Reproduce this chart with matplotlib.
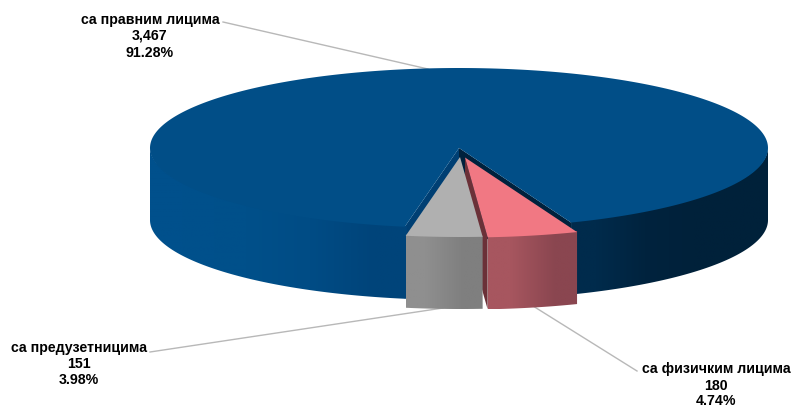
import numpy as np
import matplotlib
matplotlib.use("Agg")
import matplotlib.pyplot as plt
from matplotlib.colors import to_rgb
from matplotlib.patches import Polygon

# deposits by type of counterparty
labels = ["са правним лицима", "са физичким лицима", "са предузетницима"]
values = [3467, 180, 151]

# pie geometry, in pixels
CX, CY = 459, 148
RX, RY = 309, 80
DEPTH = 72
SPLIT = 4.2  # where the two small slices meet, degrees right of straight down
PINK_OFFSET = (6, 9.5)
GRAY_OFFSET = (1, 9)

plt.rcParams["font.family"] = ["Liberation Sans", "DejaVu Sans"]

total = sum(values)
pink_end = SPLIT + values[1] / total * 360
gray_end = SPLIT - values[2] / total * 360


def rim(phi, dx=0, dy=0):
    # phi is measured from straight down, positive to the right
    p = np.radians(phi)
    return CX + dx + RX * np.sin(p), CY + dy + RY * np.cos(p)


def wall(ax, phi0, phi1, colors, dx=0, dy=0, zorder=2):
    # side of the disc, a left-to-right gradient clipped to the outline
    x, y = rim(np.linspace(phi0, phi1, 200), dx, dy)
    # upper edge sits 1px above the rim so no seam shows under the top
    xs = np.r_[x, x[::-1]]
    ys = np.r_[y - 1, y[::-1] + DEPTH]
    grad = np.array([to_rgb(c) for c in colors])[None, :, :]
    im = ax.imshow(grad, extent=[xs.min(), xs.max(), ys.max(), ys.min()], aspect="auto",
                   interpolation="bilinear", zorder=zorder)
    im.set_clip_path(Polygon(np.c_[xs, ys], closed=True, transform=ax.transData))


def slice_top(ax, phi0, phi1, color, dx=0, dy=0, zorder=3):
    x, y = rim(np.linspace(phi0, phi1, 300), dx, dy)
    ax.fill(np.r_[CX + dx, x], np.r_[CY + dy, y], color=color, lw=0, zorder=zorder)


def cut_face(ax, phi, color, dx=0, dy=0, zorder=2):
    x, y = rim(phi, dx, dy)
    ax.fill([CX + dx, x, x, CX + dx], [CY + dy, y, y + DEPTH, CY + dy + DEPTH],
            color=color, lw=0, zorder=zorder)


fig = plt.figure(figsize=(7.92, 4.07), dpi=100)
ax = fig.add_axes([0, 0, 1, 1])
ax.axis("off")

# leader lines
leaders = [((223, 22), (428, 69)), ((533, 306), (637, 371)), ((150, 352), (443, 308))]
for a, b in leaders:
    ax.plot([a[0], b[0]], [a[1], b[1]], color="#b8b8b8", lw=1, zorder=1)

# large slice, left wall runs slightly past the cut so it butts against the gray slice
cut_face(ax, pink_end, "#00213d", zorder=2)
cut_face(ax, gray_end, "#003f73", zorder=2)
wall(ax, -90, gray_end + 0.4, ["#00508c", "#00508a", "#004c85", "#00447a"], zorder=3)
wall(ax, pink_end, 90, ["#002b4c", "#00233e", "#00213a", "#00213a"], zorder=3)
slice_top(ax, pink_end, 360 + gray_end, "#014e87", zorder=4)

# pink slice
cut_face(ax, SPLIT, "#6b3138", *PINK_OFFSET, zorder=5)
wall(ax, SPLIT, pink_end, ["#a7565f", "#8a4650"], *PINK_OFFSET, zorder=6)
slice_top(ax, SPLIT, pink_end, "#f17883", *PINK_OFFSET, zorder=7)

# gray slice
wall(ax, gray_end, SPLIT, ["#8f8f8f", "#7f7f7f"], *GRAY_OFFSET, zorder=8)
slice_top(ax, gray_end, SPLIT, "#b0b0b0", *GRAY_OFFSET, zorder=9)

# labels, one text per line
label_x = [150, 716, 79]
label_y = [(20, 36, 53), (369, 386, 401), (348, 364, 380)]
for name, v, x, ys in zip(labels, values, label_x, label_y):
    lines = [name, f"{v:,}", f"{v / total * 100:.2f}%"]
    for line, y in zip(lines, ys):
        ax.text(x, y, line, ha="center", va="center", fontsize=10.2,
                fontweight="bold", color="black", zorder=10)

ax.set_xlim(0, 792)
ax.set_ylim(407, 0)
fig.savefig("out.png", dpi=100)
